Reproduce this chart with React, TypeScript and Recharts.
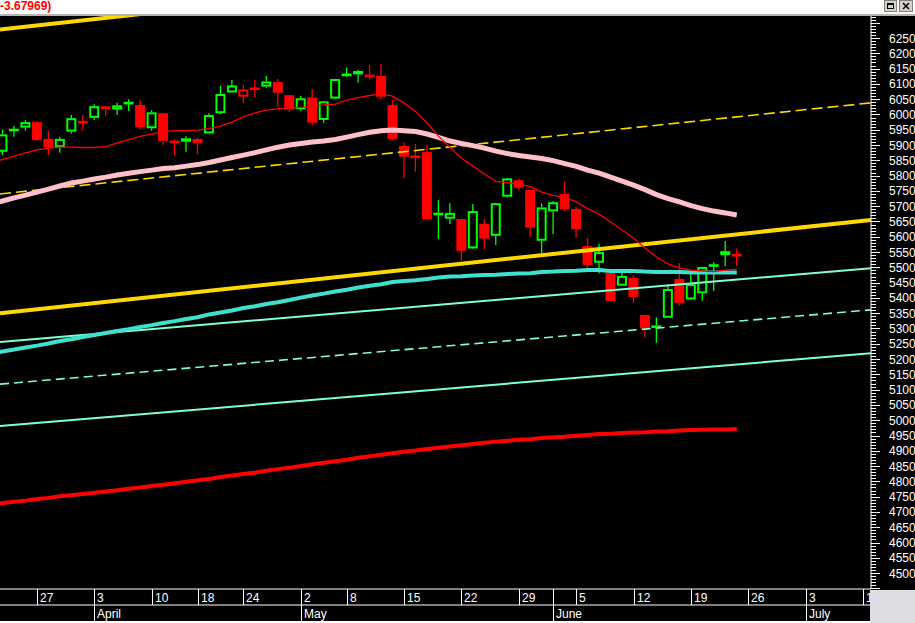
import React from 'react';
import { ComposedChart, Line, Bar, XAxis, YAxis } from 'recharts';

const FONT = '"Liberation Sans", Arial, sans-serif';

// trading-day index, 0 = Monday 27 March 2006 (DAX, daily)
const dayIndex = [-4, -3, -2, -1, 0, 1, 2, 3, 4, 5, 6, 7, 8, 9, 10, 11, 12, 13, 14, 15, 16, 17, 18, 19, 20, 21, 22, 23, 24, 25, 26, 27, 28, 29, 30, 31, 32, 33, 34, 35, 36, 37, 38, 39, 40, 41, 42, 43, 44, 45, 46, 47, 48, 49, 50, 51, 52, 53, 54, 55, 56, 57, 58, 59, 60, 61];

const openPrices = [null, 5878, 5948, 5957, 5975, 5920, 5893, 5944, 5976, 5989, 6023, 6016, 6036, 6031, 5955, 6004, 5911, 5911, 5920, 5938, 6004, 6072, 6058, 6087, 6091, 6106, 6063, 6017, 6056, 5982, 6052, 6132, 6131, 6127, 6126, 6031, 5897, 5863, 5877, 5677, 5659, 5658, 5562, 5642, 5603, 5731, 5785, 5753, 5587, 5683, 5740, 5691, 5570, 5515, 5482, 5440, 5466, 5344, 5302, 5335, 5462, 5395, 5415, 5502, 5553, 5541];
const highPrices = [null, 5951, 5962, 5982, 5978, 5947, 5927, 5998, 5998, 6033, 6028, 6038, 6050, 6047, 6014, 6005, 5920, 5929, 5924, 6004, 6093, 6113, 6096, 6113, 6126, 6116, 6064, 6060, 6083, 6044, 6117, 6154, 6145, 6162, 6165, 6047, 5908, 5903, 5900, 5720, 5710, 5659, 5707, 5658, 5710, 5792, 5789, 5754, 5709, 5717, 5782, 5698, 5597, 5576, 5485, 5484, 5475, 5345, 5337, 5444, 5513, 5478, 5502, 5517, 5586, 5562];
const lowPrices = [null, 5867, 5927, 5947, 5913, 5867, 5875, 5938, 5947, 5982, 5995, 5998, 6011, 5952, 5947, 5901, 5865, 5878, 5870, 5936, 6001, 6071, 6038, 6055, 6087, 6025, 6009, 6012, 5965, 5973, 6051, 6123, 6104, 6115, 6050, 5915, 5791, 5813, 5656, 5593, 5642, 5522, 5560, 5559, 5573, 5728, 5753, 5600, 5546, 5609, 5682, 5597, 5491, 5480, 5388, 5439, 5384, 5270, 5253, 5334, 5374, 5394, 5391, 5423, 5504, 5504];
const closePrices = [null, 5935, 5950, 5975, 5916, 5892, 5920, 5988, 5974, 6027, 6021, 6030, 6038, 5958, 6007, 5914, 5909, 5922, 5907, 5998, 6067, 6095, 6082, 6081, 6108, 6071, 6017, 6053, 5973, 6043, 6116, 6127, 6142, 6125, 6058, 5920, 5862, 5860, 5658, 5672, 5678, 5554, 5684, 5594, 5710, 5791, 5760, 5630, 5696, 5713, 5691, 5625, 5507, 5550, 5390, 5472, 5403, 5300, 5310, 5429, 5384, 5445, 5501, 5510, 5540, 5538];

// moving averages
const pinkAverage = [5707, 5717, 5727, 5736, 5746, 5756, 5766, 5776, 5782, 5789, 5795, 5802, 5808, 5813, 5818, 5823, 5826, 5831, 5836, 5843, 5851, 5859, 5867, 5875, 5884, 5893, 5900, 5905, 5910, 5913, 5918, 5926, 5934, 5942, 5947, 5949, 5947, 5944, 5936, 5925, 5913, 5905, 5898, 5890, 5880, 5872, 5866, 5861, 5856, 5849, 5839, 5830, 5818, 5808, 5795, 5782, 5769, 5754, 5738, 5725, 5714, 5702, 5692, 5684, 5678, 5671];
const redShortAverage = [5841, 5853, 5864, 5874, 5884, 5890, 5893, 5893, 5892, 5892, 5895, 5907, 5918, 5928, 5936, 5944, 5947, 5947, 5949, 5954, 5962, 5975, 5992, 6005, 6014, 6019, 6021, 6023, 6026, 6031, 6034, 6047, 6055, 6062, 6067, 6060, 6037, 6010, 5972, 5929, 5893, 5857, 5831, 5805, 5781, 5777, 5772, 5764, 5746, 5735, 5730, 5714, 5692, 5674, 5648, 5622, 5596, 5563, 5534, 5511, 5498, 5491, 5488, 5486, 5491, 5494];
const cyanAverage = [5218, 5225, 5231, 5238, 5244, 5251, 5259, 5265, 5272, 5279, 5285, 5292, 5298, 5305, 5311, 5318, 5324, 5331, 5337, 5346, 5352, 5359, 5367, 5373, 5380, 5386, 5393, 5401, 5408, 5414, 5421, 5427, 5434, 5440, 5445, 5452, 5455, 5458, 5462, 5467, 5470, 5471, 5473, 5475, 5476, 5478, 5480, 5481, 5485, 5486, 5488, 5489, 5491, 5491, 5488, 5488, 5488, 5486, 5485, 5485, 5485, 5483, 5483, 5483, 5483, 5483];
const redLongAverage = [4726, 4729, 4733, 4737, 4742, 4746, 4751, 4755, 4759, 4763, 4767, 4771, 4776, 4780, 4785, 4789, 4794, 4799, 4804, 4808, 4814, 4819, 4824, 4829, 4835, 4840, 4845, 4850, 4856, 4861, 4866, 4871, 4877, 4882, 4887, 4892, 4897, 4901, 4906, 4910, 4914, 4918, 4922, 4926, 4930, 4933, 4936, 4938, 4942, 4944, 4946, 4949, 4952, 4955, 4956, 4958, 4960, 4961, 4963, 4964, 4966, 4968, 4969, 4970, 4970, 4971];

// visible range (trading-day index) and price range
const X_DOMAIN = [-3.2252, 72.698];
const Y_DOMAIN = [4448, 6322];

// trend lines (two anchor points each)
const yellowUpper = [{ r: -3.2252, v: 6278 }, { r: 72.698, v: 6590 }];
const yellowMid = [{ r: -3.2252, v: 5740 }, { r: 72.698, v: 6038 }];
const yellowLower = [{ r: -3.2252, v: 5350 }, { r: 72.698, v: 5655 }];
const aquaUpper = [{ r: -3.2252, v: 5256 }, { r: 72.698, v: 5497 }];
const aquaMid = [{ r: -3.2252, v: 5118 }, { r: 72.698, v: 5361 }];
const aquaLower = [{ r: -3.2252, v: 4981 }, { r: 72.698, v: 5219 }];

// axis labels
const weekTicks = [0, 5, 10, 14, 18, 23, 27, 32, 37, 42, 47, 52, 57, 62, 67, 72];
const weekLabels = ['27', '3', '10', '18', '24', '2', '8', '15', '22', '29', '5', '12', '19', '26', '3', '10'];
const monthTicks = [5, 23, 45, 67];
const monthLabels = ['April', 'May', 'June', 'July'];
const yLabelTicks = [4500, 4550, 4600, 4650, 4700, 4750, 4800, 4850, 4900, 4950, 5000, 5050, 5100, 5150, 5200, 5250, 5300, 5350, 5400, 5450, 5500, 5550, 5600, 5650, 5700, 5750, 5800, 5850, 5900, 5950, 6000, 6050, 6100, 6150, 6200, 6250];
const Y_MINOR_STEP = 10;

const yAllTicks: number[] = [];
for (let v = 4450; v <= 6320; v += Y_MINOR_STEP) yAllTicks.push(v);
const dayAxisTicks = [...weekTicks, ...monthTicks].filter((v, i, a) => a.indexOf(v) === i).sort((a, b) => a - b);

const daily = dayIndex.map((r, i) => ({
  r,
  o: openPrices[i],
  h: highPrices[i],
  l: lowPrices[i],
  c: closePrices[i],
  prev: i > 0 ? closePrices[i - 1] : null,
  pink: pinkAverage[i],
  redShort: redShortAverage[i],
  cyan: cyanAverage[i],
  redLong: redLongAverage[i],
}));

const GREEN = '#00FF00';
const RED = '#FF0000';
const BODY_W = 10;

const Candle = (props: any) => {
  const { x, y, width, height, payload } = props;
  if (!payload || payload.h == null) return null;
  const { o, h, l, c, prev } = payload;
  const top = Math.min(y, y + height);
  const span = Math.abs(height);
  const toPx = (v: number) => top + ((h - v) / (h - l)) * span;
  const cx = x + width / 2;
  const bx = cx - BODY_W / 2;
  const up = prev == null ? c >= o : c >= prev;
  const col = up ? GREEN : RED;
  const yo = toPx(o);
  const yc = toPx(c);
  const bTop = Math.min(yo, yc);
  const bBot = Math.max(yo, yc);
  const hollow = c > o;
  const thin = bBot - bTop < 3;
  const elems: any[] = [];
  elems.push(<line key="w1" x1={cx} x2={cx} y1={top} y2={bTop} stroke={col} strokeWidth={1.3} />);
  elems.push(<line key="w2" x1={cx} x2={cx} y1={bBot} y2={top + span} stroke={col} strokeWidth={1.3} />);
  if (thin) {
    const mid = (bTop + bBot) / 2;
    elems.push(<rect key="b" x={bx} y={mid - 1.3} width={BODY_W} height={2.6} fill={col} />);
  } else if (hollow) {
    elems.push(<rect key="b" x={bx + 1} y={bTop + 1} width={BODY_W - 2} height={bBot - bTop - 2} fill="none" stroke={col} strokeWidth={2} />);
  } else {
    elems.push(<rect key="b" x={bx} y={bTop} width={BODY_W} height={bBot - bTop} fill={col} />);
  }
  return <g>{elems}</g>;
};

const YTick = (props: any) => {
  const { x, y, payload } = props;
  const v = payload.value;
  const major = v % 50 === 0;
  const labelled = yLabelTicks.indexOf(v) >= 0;
  const yy = Math.round(y) + 0.5;
  return (
    <g>
      <line x1={x} x2={x + (major ? 9 : 5)} y1={yy} y2={yy} stroke="#fff" strokeWidth={1} />
      {labelled && (
        <text x={x + 18} y={y + 4.5} fill="#fff" fontSize={12} fontFamily={FONT}>
          {v}
        </text>
      )}
    </g>
  );
};

const DayTick = (props: any) => {
  const { x, y, payload } = props;
  const i = weekTicks.indexOf(payload.value);
  const xx = Math.round(x) + 0.5;
  return (
    <g>
      <line x1={xx} x2={xx} y1={y} y2={y + 16} stroke="#fff" strokeWidth={1} />
      {i >= 0 && (
        <text x={xx + 2.5} y={y + 12.5} fill="#fff" fontSize={12} fontFamily={FONT}>
          {weekLabels[i]}
        </text>
      )}
    </g>
  );
};

const MonthTick = (props: any) => {
  const { x, y, payload } = props;
  const i = monthTicks.indexOf(payload.value);
  const xx = Math.round(x) + 0.5;
  return (
    <g>
      <line x1={xx} x2={xx} y1={y} y2={y + 16} stroke="#fff" strokeWidth={1} />
      {i >= 0 && (
        <text x={xx + 2.5} y={y + 12.5} fill="#fff" fontSize={12} fontFamily={FONT}>
          {monthLabels[i]}
        </text>
      )}
    </g>
  );
};

const lineCommon = { xAxisId: 'day', yAxisId: 'p', dot: false, activeDot: false, isAnimationActive: false, type: 'linear' as const };

export default function App() {
  return (
    <div style={{ position: 'absolute', left: 0, top: 0, width: 915, height: 623, background: '#fff', overflow: 'hidden' }}>
      <div style={{ position: 'absolute', left: 0, top: 0, height: 14, lineHeight: '12px', color: '#FF0000', fontWeight: 'bold', fontSize: 12, fontFamily: FONT, whiteSpace: 'nowrap' }}>
        -3.67969)
      </div>
      <div style={{ position: 'absolute', left: 884, top: 0, width: 13, height: 12, background: '#D4D0C8', border: '1px solid #808080', boxSizing: 'border-box' }}>
        <div style={{ position: 'absolute', left: 2, top: 2, width: 7, height: 6, borderTop: '2px solid #000', borderLeft: '1px solid #000', borderRight: '1px solid #000', borderBottom: '1px solid #000', boxSizing: 'border-box' }} />
      </div>
      <div style={{ position: 'absolute', left: 899, top: 0, width: 14, height: 12, background: '#D4D0C8', border: '1px solid #808080', boxSizing: 'border-box' }}>
        <svg width={12} height={10} style={{ position: 'absolute', left: 0, top: 0 }}>
          <line x1={3} y1={2} x2={9} y2={8} stroke="#000" strokeWidth={1.5} />
          <line x1={9} y1={2} x2={3} y2={8} stroke="#000" strokeWidth={1.5} />
        </svg>
      </div>
      <div style={{ position: 'absolute', left: 0, top: 14, width: 915, height: 2, background: '#B4B4B4' }} />
      <div style={{ position: 'absolute', left: 0, top: 16, width: 915, height: 605, background: '#000' }}>
        <ComposedChart width={915} height={605} data={daily} margin={{ top: 0, right: 0, bottom: 0, left: 0 }}>
          <XAxis
            xAxisId="day"
            dataKey="r"
            type="number"
            domain={X_DOMAIN}
            allowDataOverflow
            ticks={dayAxisTicks}
            interval={0}
            tick={<DayTick />}
            tickLine={false}
            tickSize={0}
            tickMargin={0}
            axisLine={{ stroke: '#fff', strokeWidth: 1 }}
            height={16}
          />
          <XAxis
            xAxisId="month"
            dataKey="r"
            type="number"
            domain={X_DOMAIN}
            allowDataOverflow
            ticks={monthTicks}
            interval={0}
            tick={<MonthTick />}
            tickLine={false}
            tickSize={0}
            tickMargin={0}
            axisLine={{ stroke: '#fff', strokeWidth: 1 }}
            height={16}
          />
          <YAxis
            yAxisId="p"
            orientation="right"
            type="number"
            domain={Y_DOMAIN}
            allowDataOverflow
            ticks={yAllTicks}
            interval={0}
            tick={<YTick />}
            tickLine={false}
            tickSize={0}
            tickMargin={0}
            axisLine={{ stroke: '#fff', strokeWidth: 1 }}
            width={44}
          />
          <Line {...lineCommon} data={aquaLower} dataKey="v" stroke="#7FFFD4" strokeWidth={2} />
          <Line {...lineCommon} data={aquaMid} dataKey="v" stroke="#7FFFD4" strokeWidth={1.6} strokeDasharray="9 5" />
          <Line {...lineCommon} data={aquaUpper} dataKey="v" stroke="#7FFFD4" strokeWidth={2} />
          <Line {...lineCommon} data={yellowMid} dataKey="v" stroke="#FFD700" strokeWidth={1.6} strokeDasharray="11 5" />
          <Line {...lineCommon} data={yellowLower} dataKey="v" stroke="#FFD700" strokeWidth={4} />
          <Line {...lineCommon} data={yellowUpper} dataKey="v" stroke="#FFD700" strokeWidth={4} />
          <Line {...lineCommon} dataKey="redLong" stroke="#FF0000" strokeWidth={4} />
          <Line {...lineCommon} dataKey="cyan" stroke="#40E0D0" strokeWidth={4} />
          <Line {...lineCommon} dataKey="pink" stroke="#FFC0CB" strokeWidth={5} />
          <Line {...lineCommon} dataKey="redShort" stroke="#FF0000" strokeWidth={1.3} />
          <Bar
            xAxisId="day"
            yAxisId="p"
            dataKey={(d: any) => (d.h == null ? null : [d.l, d.h])}
            barSize={10}
            shape={<Candle />}
            isAnimationActive={false}
          />
        </ComposedChart>
      </div>
      <div style={{ position: 'absolute', left: 870, top: 590, width: 45, height: 33, background: '#DEDEE2' }} />
    </div>
  );
}
